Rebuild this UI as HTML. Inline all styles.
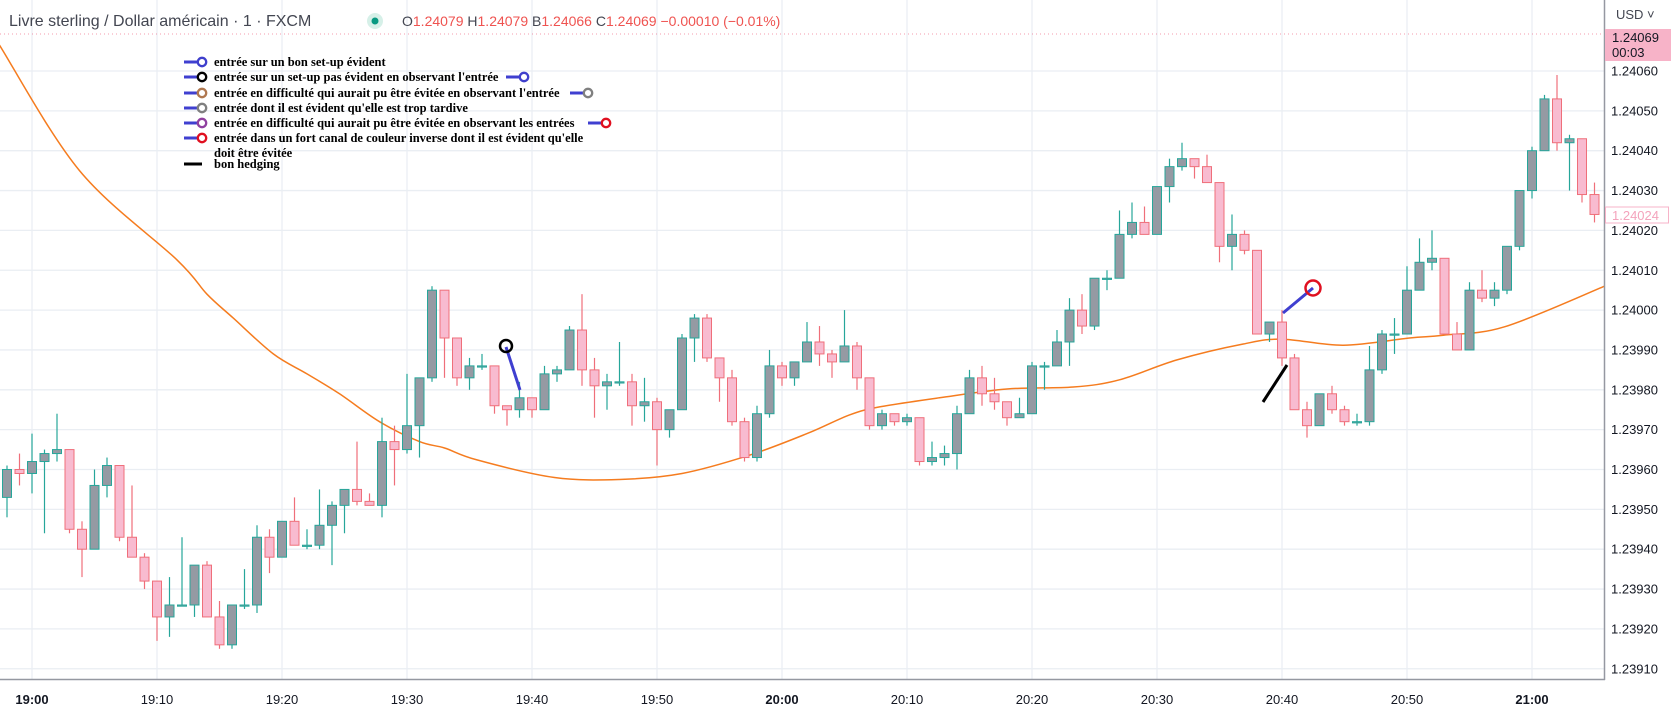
<!DOCTYPE html>
<html><head><meta charset="utf-8"><style>
html,body{margin:0;padding:0;background:#fff;overflow:hidden}
svg{display:block;font-family:"Liberation Sans",sans-serif}
.lg{font-family:"Liberation Serif",serif;font-weight:bold;font-size:12.5px;fill:#000}
</style></head><body>
<svg id="c" width="1671" height="711" viewBox="0 0 1671 711" xmlns="http://www.w3.org/2000/svg">
<g id="grid"></g>
<line x1="0" y1="34" x2="1604" y2="34" stroke="#ef5a7a" stroke-width="1" stroke-dasharray="1,3" opacity="0.6"/>
<g id="ma"></g>
<g id="candles"></g>
<g id="annot">
 <line x1="506" y1="347" x2="520" y2="390" stroke="#3f3fd0" stroke-width="3"/>
 <circle cx="506" cy="346" r="6" fill="none" stroke="#000" stroke-width="2.5"/>
 <line x1="1283" y1="313" x2="1313" y2="288" stroke="#3f3fd0" stroke-width="3"/>
 <circle cx="1313" cy="288" r="7.5" fill="none" stroke="#e01020" stroke-width="2.5"/>
 <line x1="1263" y1="402" x2="1287" y2="365" stroke="#000" stroke-width="3"/>
</g>
<g id="legend"></g>
<g>
 <text x="9" y="26" font-size="16" fill="#434651">Livre sterling / Dollar américain · 1 · FXCM</text>
 <circle cx="375" cy="21" r="8" fill="#d6f0e8"/>
 <circle cx="375" cy="21" r="3.5" fill="#089981"/>
 <text x="402" y="26" font-size="14" fill="#ef5350"><tspan fill="#434651">O</tspan>1.24079 <tspan fill="#434651">H</tspan>1.24079 <tspan fill="#434651">B</tspan>1.24066 <tspan fill="#434651">C</tspan>1.24069 −0.00010 (−0.01%)</text>
</g>
<g id="axes">
 <rect x="1604" y="0" width="67" height="711" fill="#fff"/>
 <rect x="0" y="679" width="1671" height="32" fill="#fff"/>
 <line x1="1604.5" y1="0" x2="1604.5" y2="680" stroke="#9598a1" stroke-width="1.5"/>
 <line x1="0" y1="679.5" x2="1605" y2="679.5" stroke="#9598a1" stroke-width="1.5"/>
 <text x="1616" y="19" font-size="13" fill="#434651">USD ˅</text>
</g>
<g id="ylab"></g>
<g id="xlab"></g>
<g>
 <rect x="1605" y="29" width="66" height="32" fill="#f7b3c8"/>
 <text x="1612" y="42" font-size="13" fill="#131722">1.24069</text>
 <text x="1612" y="57" font-size="13" fill="#131722">00:03</text>
 <rect x="1605.5" y="207" width="63" height="16" fill="#fff" stroke="#f7b3c8"/>
 <text x="1612" y="220" font-size="13" fill="#f4a3bc">1.24024</text>
</g>
</svg>
<script>
const NS="http://www.w3.org/2000/svg";
// data
const startTime="18:58";
const opens=[1.23953,1.23960,1.23959,1.23962,1.23964,1.23965,1.23945,1.23940,1.23956,1.23961,1.23943,1.23938,1.23932,1.23923,1.23926,1.23926,1.23936,1.23923,1.23916,1.23926,1.23926,1.23943,1.23938,1.23947,1.23941,1.23941,1.23946,1.23951,1.23955,1.23952,1.23951,1.23967,1.23965,1.23971,1.23983,1.24005,1.23993,1.23983,1.23986,1.23986,1.23976,1.23975,1.23978,1.23975,1.23984,1.23985,1.23995,1.23985,1.23981,1.23982,1.23982,1.23976,1.23977,1.23970,1.23975,1.23993,1.23998,1.23988,1.23983,1.23972,1.23963,1.23974,1.23986,1.23983,1.23987,1.23992,1.23989,1.23987,1.23991,1.23983,1.23971,1.23974,1.23972,1.23973,1.23962,1.23963,1.23964,1.23974,1.23983,1.23979,1.23977,1.23973,1.23974,1.23986,1.23986,1.23992,1.24000,1.23996,1.24008,1.24008,1.24019,1.24022,1.24019,1.24031,1.24036,1.24038,1.24036,1.24032,1.24016,1.24019,1.24015,1.23994,1.23997,1.23988,1.23975,1.23971,1.23979,1.23975,1.23972,1.23972,1.23985,1.23994,1.23994,1.24005,1.24012,1.24013,1.23994,1.23990,1.24005,1.24003,1.24005,1.24016,1.24030,1.24040,1.24053,1.24042,1.24043,1.24029];
const highs=[1.23961,1.23964,1.23969,1.23965,1.23974,1.23965,1.23947,1.23960,1.23963,1.23961,1.23956,1.23939,1.23932,1.23933,1.23943,1.23936,1.23937,1.23927,1.23926,1.23935,1.23946,1.23945,1.23947,1.23953,1.23945,1.23955,1.23952,1.23955,1.23967,1.23954,1.23973,1.23971,1.23984,1.23983,1.24006,1.24005,1.23993,1.23988,1.23989,1.23986,1.23976,1.23982,1.23978,1.23986,1.23986,1.23996,1.24004,1.23988,1.23984,1.23992,1.23984,1.23983,1.23978,1.23975,1.23994,1.23999,1.23999,1.23988,1.23985,1.23973,1.23976,1.23990,1.23987,1.23987,1.23997,1.23996,1.23990,1.24000,1.23992,1.23983,1.23975,1.23974,1.23974,1.23973,1.23967,1.23966,1.23976,1.23985,1.23986,1.23983,1.23977,1.23978,1.23987,1.23987,1.23995,1.24003,1.24004,1.24008,1.24010,1.24025,1.24027,1.24026,1.24031,1.24038,1.24042,1.24038,1.24039,1.24032,1.24024,1.24020,1.24015,1.23997,1.24000,1.23989,1.23977,1.23979,1.23981,1.23976,1.23974,1.23991,1.23995,1.23998,1.24011,1.24018,1.24020,1.24013,1.23997,1.24007,1.24010,1.24007,1.24016,1.24030,1.24041,1.24054,1.24059,1.24044,1.24043,1.24032];
const lows=[1.23948,1.23956,1.23954,1.23944,1.23962,1.23944,1.23933,1.23940,1.23953,1.23942,1.23938,1.23930,1.23917,1.23918,1.23926,1.23923,1.23923,1.23915,1.23915,1.23925,1.23924,1.23934,1.23938,1.23941,1.23940,1.23940,1.23936,1.23944,1.23951,1.23951,1.23948,1.23956,1.23964,1.23963,1.23982,1.23983,1.23981,1.23980,1.23985,1.23974,1.23971,1.23973,1.23973,1.23975,1.23982,1.23985,1.23981,1.23973,1.23975,1.23981,1.23971,1.23972,1.23961,1.23968,1.23975,1.23987,1.23987,1.23977,1.23971,1.23962,1.23962,1.23973,1.23981,1.23981,1.23987,1.23986,1.23983,1.23987,1.23980,1.23970,1.23970,1.23971,1.23971,1.23961,1.23961,1.23961,1.23960,1.23974,1.23976,1.23975,1.23971,1.23973,1.23974,1.23980,1.23986,1.23986,1.23994,1.23995,1.24005,1.24008,1.24018,1.24019,1.24019,1.24027,1.24035,1.24033,1.24032,1.24012,1.24010,1.24014,1.23994,1.23992,1.23986,1.23975,1.23968,1.23971,1.23974,1.23971,1.23971,1.23971,1.23984,1.23989,1.23994,1.24005,1.24010,1.23994,1.23990,1.23990,1.24002,1.24001,1.24004,1.24015,1.24028,1.24040,1.24040,1.24030,1.24027,1.24022];
const closes=[1.23960,1.23959,1.23962,1.23964,1.23965,1.23945,1.23940,1.23956,1.23961,1.23943,1.23938,1.23932,1.23923,1.23926,1.23926,1.23936,1.23923,1.23916,1.23926,1.23926,1.23943,1.23938,1.23947,1.23941,1.23941,1.23946,1.23951,1.23955,1.23952,1.23951,1.23967,1.23965,1.23971,1.23983,1.24005,1.23993,1.23983,1.23986,1.23986,1.23976,1.23975,1.23978,1.23975,1.23984,1.23985,1.23995,1.23985,1.23981,1.23982,1.23982,1.23976,1.23977,1.23970,1.23975,1.23993,1.23998,1.23988,1.23983,1.23972,1.23963,1.23974,1.23986,1.23983,1.23987,1.23992,1.23989,1.23987,1.23991,1.23983,1.23971,1.23974,1.23972,1.23973,1.23962,1.23963,1.23964,1.23974,1.23983,1.23979,1.23977,1.23973,1.23974,1.23986,1.23986,1.23992,1.24000,1.23996,1.24008,1.24008,1.24019,1.24022,1.24019,1.24031,1.24036,1.24038,1.24036,1.24032,1.24016,1.24019,1.24015,1.23994,1.23997,1.23988,1.23975,1.23971,1.23979,1.23975,1.23972,1.23972,1.23985,1.23994,1.23994,1.24005,1.24012,1.24013,1.23994,1.23990,1.24005,1.24003,1.24005,1.24016,1.24030,1.24040,1.24053,1.24042,1.24043,1.24029,1.24024];
const maMinutes=[-2.6,3.8,11.6,14,16.1,19.3,22,24.6,27.8,31,33,35.6,41.8,47,52,57.4,62,65.4,67.8,72.6,78,83.3,87,91.6,96.9,100,104.9,110.2,112.9,117.8,125.8];
const maValues=[1.240665,1.24035,1.240126,1.24004,1.23998,1.23989,1.23984,1.23979,1.23972,1.23967,1.239654,1.239624,1.23958,1.239575,1.23959,1.239636,1.23969,1.239737,1.239757,1.23978,1.239802,1.239807,1.239825,1.239875,1.239915,1.239927,1.239912,1.23993,1.239937,1.239958,1.24006];
const priceTicks=[1.24060,1.24050,1.24040,1.24030,1.24020,1.24010,1.24000,1.23990,1.23980,1.23970,1.23960,1.23950,1.23940,1.23930,1.23920,1.23910];
const timeTicks=["19:00","19:10","19:20","19:30","19:40","19:50","20:00","20:10","20:20","20:30","20:40","20:50","21:00"];
const boldTicks=["19:00","20:00","21:00"];
const legendItems=["entrée sur un bon set-up évident","entrée sur un set-up pas évident en observant l'entrée","entrée en difficulté qui aurait pu être évitée en observant l'entrée","entrée dont il est évident qu'elle est trop tardive","entrée en difficulté qui aurait pu être évitée en observant les entrées","entrée dans un fort canal de couleur inverse dont il est évident qu'elle","doit être évitée","bon hedging"];

// axes
function mins(t){const p=t.split(":");return (+p[0])*60+(+p[1])-19*60;}
function xOf(m){return 32+12.5*m;}
function yOf(p){return 71+(1.24060-p)*398500;}
const startM=mins(startTime);
function mk(tag,attrs,parent){const e=document.createElementNS(NS,tag);for(const k in attrs)e.setAttribute(k,attrs[k]);parent.appendChild(e);return e;}

const grid=document.getElementById('grid');
priceTicks.forEach(p=>{
 const l=mk('line',{x1:0,x2:1604,y1:yOf(p),y2:yOf(p),stroke:'#eaeef3','stroke-width':1.3},grid);
 
 
 const t=mk('text',{x:1611,y:yOf(p)+4.5,'font-size':13,fill:'#131722'},document.getElementById('ylab'));
 t.textContent=p.toFixed(5);
 
 
});
timeTicks.forEach(s=>{
 const x=xOf(mins(s));
 const l=mk('line',{x1:x,x2:x,y1:0,y2:679,stroke:'#eaeef3','stroke-width':1.3},grid);
 
 
 const t=mk('text',{x:x,y:704,'font-size':13,fill:'#131722','text-anchor':'middle','font-weight':boldTicks.includes(s)?'bold':'normal'},document.getElementById('xlab'));
 t.textContent=s;
 
 
});

// MA (smooth catmull-rom)
const pts=maMinutes.map((m,i)=>[xOf(m),yOf(maValues[i])]);
let d='M'+pts[0][0].toFixed(1)+' '+pts[0][1].toFixed(1);
for(let i=0;i<pts.length-1;i++){
 const p0=pts[Math.max(i-1,0)],p1=pts[i],p2=pts[i+1],p3=pts[Math.min(i+2,pts.length-1)];
 const c1=[p1[0]+(p2[0]-p0[0])/6,p1[1]+(p2[1]-p0[1])/6];
 const c2=[p2[0]-(p3[0]-p1[0])/6,p2[1]-(p3[1]-p1[1])/6];
 d+='C'+c1[0].toFixed(1)+' '+c1[1].toFixed(1)+' '+c2[0].toFixed(1)+' '+c2[1].toFixed(1)+' '+p2[0].toFixed(1)+' '+p2[1].toFixed(1);
}
const ma=mk('path',{d:d,fill:'none',stroke:'#f57c1f','stroke-width':1.5},document.getElementById('ma'));



// candles
const cg=document.getElementById('candles');
opens.forEach((o,i)=>{
 const c=closes[i],h=highs[i],l=lows[i];
 const x=xOf(startM+i);
 const bull=c>=o;
 const g=mk('g',{},cg);
 
 
 mk('line',{x1:x,x2:x,y1:yOf(h),y2:yOf(l),stroke:bull?'#26a69a':'#ef6f7a','stroke-width':1.2},g);
 const top=yOf(Math.max(o,c)),bot=yOf(Math.min(o,c));
 mk('rect',{x:x-4.5,y:top,width:9,height:Math.max(bot-top,1.2),fill:bull?'#959aa3':'#f8bbd0',stroke:bull?'#26a69a':'#ef6f7a','stroke-width':1},g);
});

// legend
const lg=document.getElementById('legend');
const rowsY=[66,81,97,112,127,142,157,168];
const circColors=['#3f3fcc','#000','#b07850','#808080','#9040a0','#e01020'];
function icon(x,y,col){
 mk('line',{x1:x,x2:x+14,y1:y,y2:y,stroke:'#3f3fd0','stroke-width':3},lg);
 mk('circle',{cx:x+18,cy:y,r:4.2,fill:'none',stroke:col,'stroke-width':2.3},lg);
}
legendItems.forEach((s,i)=>{
 const y=rowsY[i];
 if(i<6)icon(184,y-4,circColors[i]);
 if(i===7)mk('line',{x1:184,x2:202,y1:y-4,y2:y-4,stroke:'#000','stroke-width':3},lg);
 const t=mk('text',{x:214,y:y,class:'lg'},lg);
 t.textContent=s;
 
 
});
icon(506,rowsY[1]-4,'#3f3fcc');
icon(570,rowsY[2]-4,'#808080');
icon(588,rowsY[4]-4,'#e01020');
</script>
</body></html>
